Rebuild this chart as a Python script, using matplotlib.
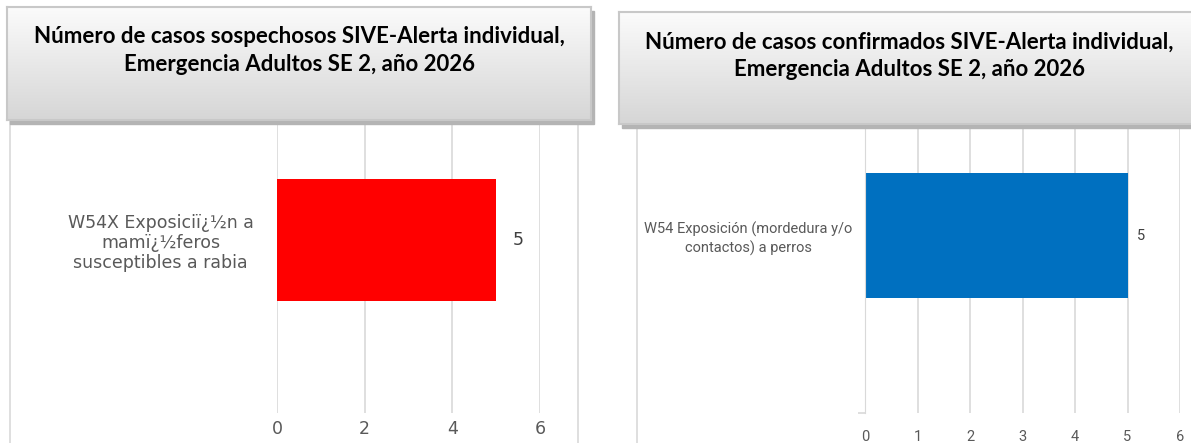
import numpy as np
import matplotlib
matplotlib.use("Agg")
import matplotlib.pyplot as plt
from matplotlib.patches import Rectangle

# data
left_cats = ["W54X Exposiciï¿½n a\nmamï¿½feros\nsusceptibles a rabia"]
left_vals = [5]
right_cats = ["W54 Exposición (mordedura y/o\ncontactos) a perros"]
right_vals = [5]
left_ticks = [0, 2, 4, 6]
right_ticks = [0, 1, 2, 3, 4, 5, 6]
left_title = "Número de casos sospechosos SIVE-Alerta individual,\nEmergencia Adultos SE 2, año 2026"
right_title = "Número de casos confirmados SIVE-Alerta individual,\nEmergencia Adultos SE 2, año 2026"

W, H = 1191, 443
fig = plt.figure(figsize=(W / 100, H / 100), dpi=100)
fig.patch.set_facecolor("white")

GRID = "#d9d9d9"
TXT = "#595959"


def rect(x0, y0, x1, y1):
    # pixel box (top-left origin) -> figure fraction
    return [x0 / W, 1 - y1 / H, (x1 - x0) / W, (y1 - y0) / H]


def panel_border(x):
    fig.add_artist(plt.Line2D([x / W, x / W], [0, 1 - 118 / H], color=GRID, lw=1.2,
                              transform=fig.transFigure, zorder=0))


def bar_panel(box, cats, vals, ticks, color, font, fsize, lblpad, valpad, tickpad, lsp, corner):
    ax = fig.add_axes(rect(*box))
    ax.barh(range(len(vals)), vals, height=0.35, color=color, zorder=2)
    ax.set_xlim(0, 6)
    ax.set_ylim(-0.5, 0.5)
    ax.set_xticks(ticks)
    ax.set_xticklabels([str(t) for t in ticks], fontsize=fsize, color=TXT, family=font)
    ax.set_yticks(range(len(cats)))
    ax.set_yticklabels(cats, fontsize=fsize, color=TXT, family=font)
    for t in ax.get_yticklabels():
        t.set_multialignment("center")
        t.set_linespacing(lsp)
    ax.tick_params(axis="x", length=0, pad=tickpad)
    ax.tick_params(axis="y", length=0, pad=lblpad)
    ax.grid(axis="x", color=GRID, lw=1.2, zorder=0)
    for s in ax.spines.values():
        s.set_visible(False)
    if corner:
        ax.spines["left"].set_visible(True)
        ax.spines["left"].set_color(GRID)
        ax.set_yticks([-0.5, 0.5], minor=True)
        ax.tick_params(axis="y", which="minor", length=5, color=GRID, width=1.2)
    for i, v in enumerate(vals):
        ax.annotate(str(v), (v, i), xytext=(valpad, 0), textcoords="offset points",
                    va="center", ha="left", fontsize=fsize, color="#404040", family=font)
    return ax


def title_box(x0, y0, x1, y1, text, ty):
    # shadow
    fig.add_artist(Rectangle((x0 / W + 3 / W, 1 - (y1 + 4) / H), (x1 - x0) / W, (y1 - y0) / H,
                             transform=fig.transFigure, color="#b4b4b4", zorder=5))
    tax = fig.add_axes(rect(x0, y0, x1, y1), zorder=6)
    grad = np.linspace(0, 1, 100).reshape(-1, 1)
    tax.imshow(grad, aspect="auto", cmap=matplotlib.colors.LinearSegmentedColormap.from_list(
        "g", ["#fbfbfb", "#d6d6d6"]), extent=[0, 1, 0, 1], origin="upper")
    tax.set_xticks([])
    tax.set_yticks([])
    for s in tax.spines.values():
        s.set_color("#c8c8c8")
        s.set_linewidth(1.5)
    tax.text(0.5, ty, text, ha="center", va="center", fontsize=16, fontweight="bold",
             family="Lato", linespacing=1.4, transform=tax.transAxes, color="black")


panel_border(9.5)
panel_border(577.5)
panel_border(636.5)

bar_panel((277, 67, 540, 413), left_cats, left_vals, left_ticks, "#ff0000",
          "DejaVu Sans", 12.5, 17, 12, 5, 1.12, False)
bar_panel((865, 58, 1180, 413), right_cats, right_vals, right_ticks, "#0070c0",
          "Roboto", 10.5, 9, 7, 12, 1.25, True)

title_box(7, 7, 591, 120, left_title, 0.615)
title_box(619, 12, 1200, 124, right_title, 0.607)

fig.savefig("out.png", dpi=100)
